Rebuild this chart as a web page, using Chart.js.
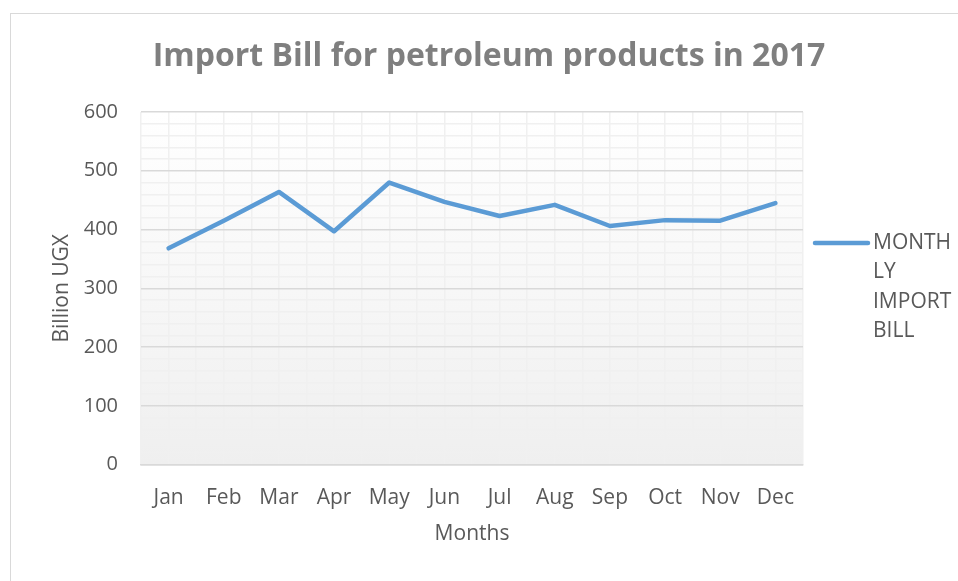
<!DOCTYPE html>
<html>
<head>
<meta charset="utf-8">
<script src="https://cdn.jsdelivr.net/npm/chart.js@4"></script>
<style>
  html, body { margin: 0; padding: 0; background: #fff; }
  #wrap { position: relative; width: 958px; height: 581px; overflow: hidden; }
  #frame {
    position: absolute; left: 10px; top: 13px; width: 1000px; height: 600px;
    border: 1.5px solid #d9d9d9; box-sizing: border-box;
  }
  canvas { position: absolute; left: 0; top: 0; }
</style>
</head>
<body>
<div id="wrap">
  <div id="frame"></div>
  <canvas id="chart" width="958" height="581"></canvas>
</div>
<script>
const months = ["Jan", "Feb", "Mar", "Apr", "May", "Jun", "Jul", "Aug", "Sep", "Oct", "Nov", "Dec"];
const importBill = [368, 415, 464, 397, 480, 447, 423, 442, 406, 416, 415, 445];
const seriesLabel = "MONTHLY IMPORT BILL";
const legendLines = ["MONTH", "LY", "IMPORT", "BILL"];
const chartTitle = "Import Bill for petroleum products in 2017";

const FONT = "'Open Sans', 'DejaVu Sans', sans-serif";
const TEXT = "#595959";
const LINE = "#5b9bd5";

// gradient fill behind the plot area, like the office chart style
const plotBackground = {
  id: "plotBackground",
  beforeDraw(chart) {
    const { ctx, chartArea: a } = chart;
    const g = ctx.createLinearGradient(0, a.top, 0, a.bottom);
    g.addColorStop(0, "#ffffff");
    g.addColorStop(1, "#efefef");
    ctx.save();
    ctx.fillStyle = g;
    ctx.fillRect(a.left, a.top, a.right - a.left, a.bottom - a.top);
    ctx.restore();
  }
};

// title centred on the whole frame, not only the space left of the legend
const frameTitle = {
  id: "frameTitle",
  afterDraw(chart) {
    const { ctx } = chart;
    ctx.save();
    ctx.fillStyle = "#7f7f7f";
    ctx.font = "bold 32px " + FONT;
    ctx.textAlign = "center";
    ctx.textBaseline = "middle";
    ctx.fillText(chartTitle, 489, 57);
    ctx.restore();
  }
};

// legend on the right, wrapped the way the original wraps it
const sideLegend = {
  id: "sideLegend",
  afterDraw(chart) {
    const { ctx, chartArea: a } = chart;
    const x0 = a.right + 10;
    const y0 = 243;
    ctx.save();
    ctx.strokeStyle = LINE;
    ctx.lineWidth = 4.5;
    ctx.lineCap = "round";
    ctx.beginPath();
    ctx.moveTo(x0 + 2, y0);
    ctx.lineTo(x0 + 55, y0);
    ctx.stroke();
    ctx.fillStyle = TEXT;
    ctx.font = "21px " + FONT;
    ctx.textBaseline = "middle";
    legendLines.forEach((t, i) => ctx.fillText(t, x0 + 60, y0 + i * 29.4));
    ctx.restore();
  }
};

new Chart(document.getElementById("chart"), {
  type: "line",
  data: {
    labels: months,
    datasets: [{
      label: seriesLabel,
      data: importBill,
      borderColor: LINE,
      backgroundColor: LINE,
      borderWidth: 4.5,
      pointRadius: 0,
      borderJoinStyle: "round",
      borderCapStyle: "round",
      tension: 0,
      xAxisID: "x"
    }]
  },
  options: {
    responsive: false,
    animation: false,
    layout: { padding: { left: 20, right: 155, top: 112, bottom: 34 } },
    plugins: {
      legend: { display: false },
      tooltip: { enabled: false },
      title: { display: false }
    },
    scales: {
      x: {
        type: "category",
        offset: true,
        grid: { offset: true, color: "#f0f0f0", lineWidth: 1.5, drawTicks: false },
        border: { display: true, color: "#d9d9d9", width: 1.5 },
        ticks: { color: TEXT, font: { family: FONT, size: 21 }, padding: 21, maxRotation: 0, autoSkip: false },
        title: { display: true, text: "Months", color: TEXT, font: { family: FONT, size: 21 }, padding: { top: -10, bottom: 0 } }
      },
      x2: {
        type: "category",
        position: "top",
        labels: months,
        offset: true,
        grid: { offset: false, color: "#f0f0f0", lineWidth: 1.5, drawTicks: false },
        border: { display: false },
        ticks: { display: false }
      },
      y: {
        min: 0,
        max: 600,
        afterFit: s => { s.width = 121; },
        grid: {
          color: c => (c.tick.value % 100 === 0 ? "#d9d9d9" : "#f0f0f0"),
          lineWidth: 1.5,
          drawTicks: false
        },
        border: { display: false },
        ticks: {
          stepSize: 20,
          autoSkip: false,
          color: TEXT,
          font: { family: FONT, size: 20 },
          padding: 23,
          callback: v => (v % 100 === 0 ? v : "")
        },
        title: { display: true, text: "Billion UGX", color: TEXT, font: { family: FONT, size: 21 }, padding: { top: 29, bottom: 0 } }
      }
    }
  },
  plugins: [plotBackground, frameTitle, sideLegend]
});
</script>
</body>
</html>
